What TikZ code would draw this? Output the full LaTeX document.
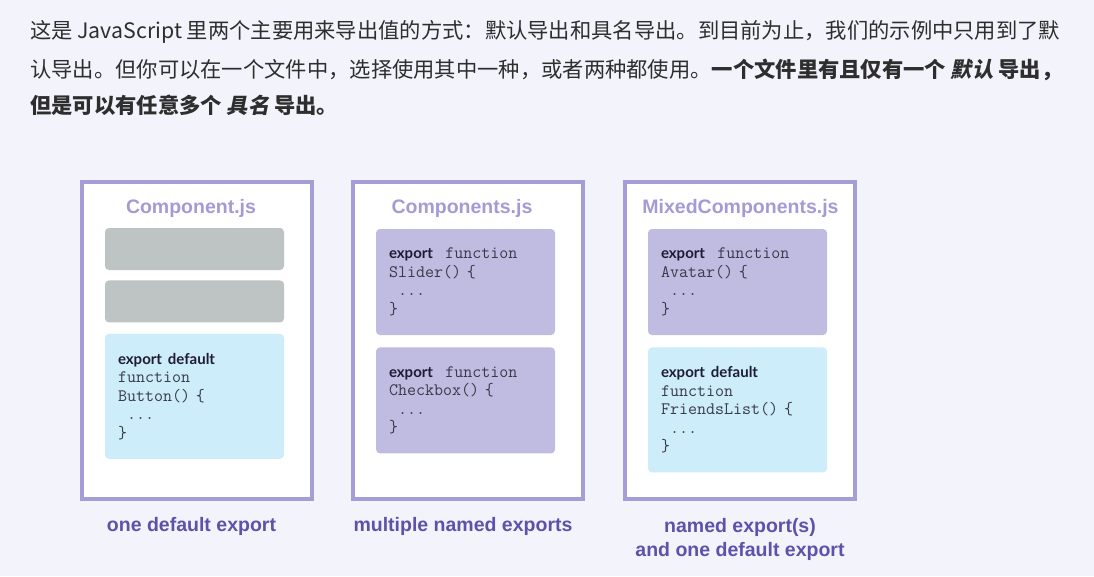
\documentclass[tikz,border=0pt]{standalone}
\usepackage{fontspec}
\usetikzlibrary{positioning}

\setmainfont{Liberation Sans}
\newfontfamily\cjk{Noto Sans CJK SC}
\newfontfamily\cjksl{Noto Sans CJK SC}[FakeSlant=0.2]
\newfontfamily\kwfont{Lato}
\newfontfamily\headfont{Liberation Sans}

\definecolor{pagebg}{HTML}{F3F3FC}
\definecolor{framecol}{HTML}{A69DD6}
\definecolor{titlecol}{HTML}{A49BD6}
\definecolor{graycol}{HTML}{BEC3C3}
\definecolor{namedcol}{HTML}{C0BBE0}
\definecolor{defcol}{HTML}{CCEDF9}
\definecolor{capcol}{HTML}{5D52A9}
\definecolor{kwcol}{HTML}{1F1B36}
\definecolor{codecol}{HTML}{3A3A4A}
\definecolor{textcol}{HTML}{2E2E2E}

\newcommand{\kw}[1]{{\kwfont\bfseries\fontsize{15}{18.5}\selectfont\color{kwcol}#1}}
\newcommand{\codefont}{\ttfamily\fontsize{17.5}{18.5}\selectfont}
\newcommand{\slem}[1]{{\cjksl\bfseries #1}}

\begin{document}
\begin{tikzpicture}
    [x=1pt, y=-1pt,
    node distance=11pt,
    filebox/.style={draw=framecol, line width=4pt, fill=white, minimum width=230pt, minimum height=317pt, inner sep=0pt},
    fname/.style={font=\headfont\bfseries\fontsize{19.5}{22}\selectfont, text=titlecol, inner sep=0pt},
    block/.style={rounded corners=4pt, minimum width=179pt, text width=153pt, inner xsep=13pt, inner ysep=4pt, align=left, font=\codefont, text=codecol},
    emptyblock/.style={block, fill=graycol, minimum height=42pt},
    namedblock/.style={block, fill=namedcol, minimum height=106pt},
    defblock/.style={block, fill=defcol, minimum height=125pt},
    caption/.style={font=\headfont\bfseries\fontsize{19.5}{24}\selectfont, text=capcol, align=center, inner sep=0pt},
    para/.style={anchor=west, inner sep=0pt, font=\cjk\fontsize{21.3}{24}\selectfont, text=textcol}]

    \fill[pagebg] (0,0) rectangle (1094,576);
    \useasboundingbox (0,0) rectangle (1094,576);

    % intro text
    \node[para] (p1) at (30,32) {这是 JavaScript 里两个主要用来导出值的方式：默认导出和具名导出。到目前为止，我们的示例中只用到了默};
    \node[para] (p2) at (30,70) {认导出。但你可以在一个文件中，选择使用其中一种，或者两种都使用。\textbf{一个文件里有且仅有一个 \slem{默认} 导出，}};
    \node[para] (p3) at (30,105) {\textbf{但是可以有任意多个 \slem{具名} 导出。}};

    % Component.js
    \node[filebox] (F1) at (196.5,340.5) {};
    \node[fname] (T1) at (191,208) {Component.js};
    \node[emptyblock] (A1) at (194.5,249) {};
    \node[emptyblock, below=10pt of A1] (A2) {};
    \node[defblock, below=of A2] (A3) {\kw{export default}\\function\\Button() \{\\\hphantom{x}...\\\}};
    \node[caption] (C1) at (191.5,526) {one default export};

    % Components.js
    \node[filebox] (F2) at (468,340.5) {};
    \node[fname] (T2) at (462,208) {Components.js};
    \node[namedblock] (B1) at (465.5,282) {\kw{export}\hspace{0.7em}function\\Slider() \{\\\hphantom{x}...\\\}};
    \node[namedblock, below=12pt of B1] (B2) {\kw{export}\hspace{0.7em}function\\Checkbox() \{\\\hphantom{x}...\\\}};
    \node[caption] (C2) at (463,526) {multiple named exports};

    % MixedComponents.js
    \node[filebox] (F3) at (740,340.5) {};
    \node[fname] (T3) at (740.5,208) {MixedComponents.js};
    \node[namedblock] (M1) at (737.5,282) {\kw{export}\hspace{0.7em}function\\Avatar() \{\\\hphantom{x}...\\\}};
    \node[defblock, below=12pt of M1] (M2) {\kw{export default}\\function\\FriendsList() \{\\\hphantom{x}...\\\}};
    \node[caption, anchor=north] (C3) at (740,518) {named export(s)\\and one default export};
\end{tikzpicture}
\end{document}
